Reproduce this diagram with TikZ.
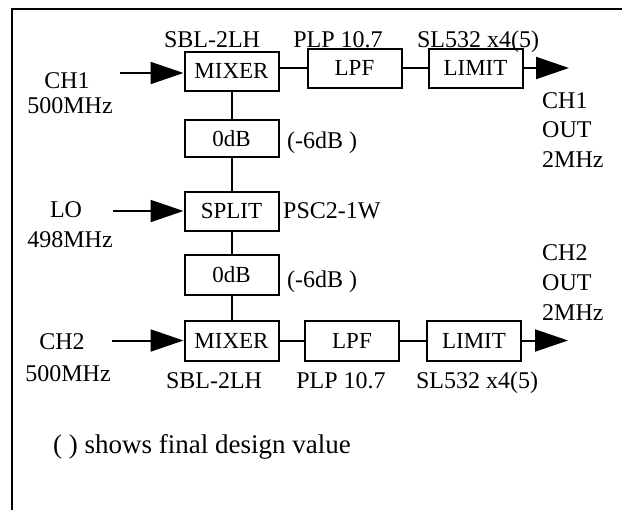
\documentclass[tikz,border=0pt]{standalone}
\usepackage{fontspec}
\setmainfont{Liberation Serif}
\usetikzlibrary{arrows.meta}
\begin{document}
\begin{tikzpicture}[x=1pt,y=-1pt,
  block/.style={draw, line width=2pt, minimum width=94pt, minimum height=39pt,
    inner sep=0pt, font=\fontsize{23}{27}\selectfont,
    text height=15.2pt, text depth=0pt},
  lbl/.style={inner sep=0pt, font=\fontsize{24}{28}\selectfont,
    text height=15.8pt, text depth=0pt},
  notelbl/.style={inner sep=0pt, font=\fontsize{27}{31}\selectfont,
    text height=12.2pt, text depth=0pt},
  wire/.style={line width=2pt},
  feed/.style={line width=2pt, -{Triangle[length=33pt,width=22pt]}}]
\useasboundingbox (0,0) rectangle (625,512);
% frame
\draw[line width=2pt] (12,510) -- (12,9) -- (622,9);

% channel 1 chain
\node[block] (mix1) at (231.5,71) {MIXER};
\node[block] (lpf1) at (354.5,68) {LPF};
\node[block] (lim1) at (475.5,68) {LIMIT};
% LO path
\node[block, minimum height=37pt] (att1) at (231.5,138.5) {0dB};
\node[block] (split) at (231.5,211) {SPLIT};
\node[block, minimum height=40pt] (att2) at (231.5,275) {0dB};
% channel 2 chain
\node[block, minimum height=40pt] (mix2) at (231.5,340.5) {MIXER};
\node[block, minimum height=40pt] (lpf2) at (352,340.5) {LPF};
\node[block, minimum height=40pt] (lim2) at (474,340.5) {LIMIT};

% free ends of the feeds
\coordinate (in1) at (120,73);
\coordinate (inlo) at (113,211);
\coordinate (in2) at (112,340.5);
\coordinate (out1) at (569,68);
\coordinate (out2) at (568,340.5);

% connectors
\draw[feed] (in1) -- (in1 -| mix1.west);
\draw[feed] (inlo) -- (split.west);
\draw[feed] (in2) -- (mix2.west);
\draw[wire] (mix1.east |- lpf1.west) -- (lpf1.west);
\draw[wire] (lpf1.east) -- (lim1.west);
\draw[feed] (lim1.east) -- (out1);
\draw[wire] (mix2.east) -- (lpf2.west);
\draw[wire] (lpf2.east) -- (lim2.west);
\draw[feed] (lim2.east) -- (out2);
\draw[wire] (mix1.south) -- (att1.north);
\draw[wire] (att1.south) -- (split.north);
\draw[wire] (split.south) -- (att2.north);
\draw[wire] (att2.south) -- (mix2.north);

% part numbers
\node[lbl] (pn1) at (212,40) {SBL-2LH};
\node[lbl] (pn2) at (338,40) {PLP 10.7};
\node[lbl] (pn3) at (478,40) {SL532 x4(5)};
\node[lbl] (pn4) at (214,381) {SBL-2LH};
\node[lbl] (pn5) at (341,381) {PLP 10.7};
\node[lbl] (pn6) at (477,381) {SL532 x4(5)};
\node[lbl, anchor=west] (pn7) at (283,211) {PSC2-1W};
\node[lbl, anchor=west] (fv1) at (287,141) {(-6dB )};
\node[lbl, anchor=west] (fv2) at (287,280) {(-6dB )};

% inputs
\node[lbl] (ch1) at (67,81) {CH1};
\node[lbl] (f1) at (70,106) {500MHz};
\node[lbl] (lo) at (66,210) {LO};
\node[lbl] (flo) at (70,240) {498MHz};
\node[lbl] (ch2) at (62,342) {CH2};
\node[lbl] (f2) at (68,374) {500MHz};

% outputs
\node[lbl, anchor=west] (o1a) at (542,101) {CH1};
\node[lbl, anchor=west] (o1b) at (542,130) {OUT};
\node[lbl, anchor=west] (o1c) at (542,160) {2MHz};
\node[lbl, anchor=west] (o2a) at (542,253) {CH2};
\node[lbl, anchor=west] (o2b) at (542,283) {OUT};
\node[lbl, anchor=west] (o2c) at (542,313) {2MHz};

% note
\node[notelbl, anchor=west] (note) at (53,447) {( ) shows final design value};
\end{tikzpicture}
\end{document}
